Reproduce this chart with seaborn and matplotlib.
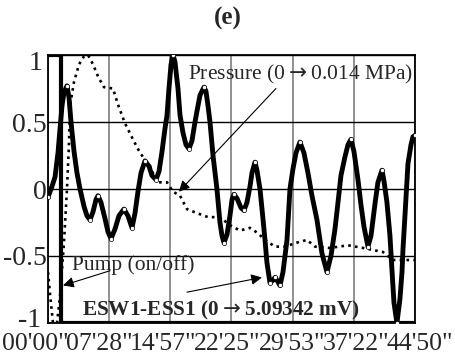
import matplotlib
matplotlib.use("Agg")
import matplotlib.pyplot as plt
import matplotlib.transforms as mtransforms
import seaborn as sns
import numpy as np

# time axis in minutes, values normalised to [-1, 1]
tick_pos = [0, 7.472, 14.944, 22.417, 29.889, 37.361, 44.833]
tick_labels = ["00'00\"", "07'28\"", "14'57\"", "22'25\"", "29'53\"", "37'22\"", "44'50\""]
ytick_pos = [-1, -0.5, 0, 0.5, 1]
ytick_labels = ["-1", "-0.5", "0", "0.5", "1"]

esw_t = [0.00, 0.49, 0.86, 1.22, 1.47, 1.71, 1.95, 2.32, 2.57, 2.81, 3.18, 3.54, 3.91,
         4.40, 4.76, 5.13, 5.50, 5.86, 6.11, 6.47, 6.96, 7.33, 7.70, 8.18, 8.67, 9.28,
         9.77, 10.26, 10.63, 10.99, 11.36, 11.85, 12.34, 12.70, 13.19, 13.56, 13.93,
         14.29, 14.54, 14.78, 15.03, 15.27, 15.51, 15.88, 16.13, 16.49, 16.86, 17.22,
         17.59, 17.96, 18.20, 18.57, 19.06, 19.30, 19.55, 19.79, 20.16, 20.64, 21.01,
         21.26, 21.50, 21.87, 22.23, 22.48, 22.72, 23.09, 23.58, 23.94, 24.31, 24.68,
         24.92, 25.29, 25.53, 25.90, 26.26, 26.51, 26.75, 27.12, 27.49, 27.73, 27.97,
         28.34, 28.71, 29.20, 29.56, 29.93, 30.30, 30.78, 31.27, 31.76, 32.25, 32.86,
         33.47, 34.08, 34.57, 35.06, 35.43, 35.79, 36.28, 36.65, 37.01, 37.38, 37.87,
         38.24, 38.60, 39.09, 39.46, 39.95, 40.31, 40.80, 41.05, 41.41, 41.78, 42.02,
         42.27, 42.63, 43.00, 43.25, 43.37, 43.61, 43.98, 44.35, 44.59, 44.83]
esw_v = [-0.06, 0.02, 0.09, 0.27, 0.45, 0.62, 0.72, 0.77, 0.68, 0.50, 0.28, 0.12, 0.00,
         -0.13, -0.20, -0.23, -0.17, -0.08, -0.05, -0.10, -0.22, -0.32, -0.37, -0.30, -0.20, -0.15,
         -0.20, -0.29, -0.18, -0.02, 0.12, 0.21, 0.17, 0.10, 0.07, 0.13, 0.28,
         0.45, 0.55, 0.75, 0.93, 1.00, 0.95, 0.75, 0.55, 0.42, 0.33, 0.30,
         0.36, 0.50, 0.58, 0.70, 0.76, 0.73, 0.62, 0.50, 0.25, 0.00, -0.25,
         -0.35, -0.40, -0.34, -0.20, -0.08, -0.04, -0.07, -0.14, -0.16, -0.10, 0.02,
         0.12, 0.20, 0.14, 0.00, -0.22, -0.38, -0.55, -0.70, -0.68, -0.66, -0.68,
         -0.72, -0.62, -0.38, 0.00, 0.15, 0.27, 0.35, 0.27, 0.12, -0.05, -0.23,
         -0.48, -0.62, -0.50, -0.30, -0.10, 0.10, 0.24, 0.33, 0.37, 0.28, 0.07,
         -0.12, -0.28, -0.43, -0.35, -0.11, 0.05, 0.14, 0.06, -0.10, -0.35, -0.60,
         -0.85, -1.00, -0.82, -0.62, -0.45, -0.20, 0.19, 0.33, 0.39, 0.40]

pres_t = [0.00, 0.24, 0.61, 1.10, 1.47, 1.95, 2.32, 2.57, 2.69, 3.18, 3.79, 4.40, 4.89,
          5.50, 6.11, 6.84, 7.94, 8.55, 9.41, 10.38, 11.24, 12.46, 13.32, 14.54, 15.27,
          16.13, 16.98, 18.20, 19.55, 21.01, 22.23, 23.45, 24.68, 25.65, 26.51, 27.73,
          28.95, 30.42, 31.64, 32.62, 34.45, 36.65, 38.48, 40.92, 42.14, 44.83]
pres_v = [-0.62, -0.78, -1.00, -1.00, -0.80, -0.40, 0.00, 0.35, 0.62, 0.80, 0.93, 0.99, 1.00,
          0.93, 0.84, 0.76, 0.75, 0.63, 0.49, 0.37, 0.27, 0.17, 0.05, 0.05, -0.02,
          -0.05, -0.15, -0.18, -0.21, -0.21, -0.27, -0.31, -0.29, -0.33, -0.38, -0.43,
          -0.43, -0.40, -0.38, -0.43, -0.44, -0.42, -0.44, -0.47, -0.53, -0.53]

pump_t = [0.0, 1.59, 1.59, 44.83]
pump_v = [1, 1, -1, -1]

sns.set_style("white")
plt.rcParams['font.family'] = ['Liberation Serif', 'DejaVu Serif']

fig = plt.figure(figsize=(4.55, 3.56), dpi=100)
ax = fig.add_axes([0.1055, 0.0927, 0.8065, 0.7528])

ax.set_xticks(tick_pos)
ax.set_yticks(ytick_pos)
ax.grid(axis='x', color='#888888', lw=1.3)
ax.grid(axis='y', color='black', lw=1.0)
ax.set_axisbelow(True)

sns.lineplot(x=pres_t, y=pres_v, ax=ax, color='black', lw=1.9, linestyle=(0, (1, 1.6)),
             sort=False, estimator=None)
sns.lineplot(x=pump_t, y=pump_v, ax=ax, color='black', lw=3.0, sort=False, estimator=None)
sns.lineplot(x=esw_t, y=esw_v, ax=ax, color='black', lw=3.5, sort=False, estimator=None)

# white dots on the turning points of the signal
v = np.array(esw_v)
turn = np.r_[True, ((v[1:-1] > v[:-2]) & (v[1:-1] > v[2:])) | ((v[1:-1] < v[:-2]) & (v[1:-1] < v[2:])), True]
ax.plot(np.array(esw_t)[turn], v[turn], 'o', ms=3, mfc='white', mec='black', mew=0.5, zorder=5)

ax.set_xlim(0, 44.833)
ax.set_ylim(-1, 1)
ax.set_xticklabels(tick_labels, fontsize=18.5)
ax.set_yticklabels(ytick_labels, fontsize=20)
ax.tick_params(axis='both', length=0)
ax.tick_params(axis='x', pad=7)
ax.tick_params(axis='y', pad=1)
for s in ax.spines.values():
    s.set_color('black')
    s.set_linewidth(1.3)
ax.set_xlabel('')
ax.set_ylabel('')

# the time labels run a little wider than the grid, as in the original
for i, lab in enumerate(ax.get_xticklabels()):
    lab.set_transform(lab.get_transform() + mtransforms.ScaledTranslation((-13 + 3 * i) / 100, 0, fig.dpi_scale_trans))
ylabs = ax.get_yticklabels()
ylabs[0].set_transform(ylabs[0].get_transform() + mtransforms.ScaledTranslation(-0.05, 0.055, fig.dpi_scale_trans))
ylabs[-1].set_transform(ylabs[-1].get_transform() + mtransforms.ScaledTranslation(-0.04, -0.05, fig.dpi_scale_trans))

arrow = dict(arrowstyle='-|>', mutation_scale=16, lw=0.8, color='black', shrinkA=0, shrinkB=0)
ax.annotate('', xy=(16.0, -0.02), xytext=(27.85, 0.75), arrowprops=arrow)
ax.text(17.1, 0.816, r'Pressure (0$\rightarrow$0.014 MPa)', fontsize=15.5, ha='left', va='baseline')
ax.annotate('', xy=(1.83, -0.72), xytext=(7.57, -0.61), arrowprops=arrow)
ax.text(2.93, -0.607, 'Pump (on/off)', fontsize=15.5, ha='left', va='baseline')
ax.annotate('', xy=(26.14, -0.66), xytext=(16.98, -0.77), arrowprops=arrow)
ax.text(4.15, -0.944, r'ESW1-ESS1 (0$\rightarrow$5.09342 mV)', fontsize=15.3, fontweight='bold',
        ha='left', va='baseline')

fig.text(0.5, 0.948, '(e)', fontsize=18, fontweight='bold', ha='center', va='center')

fig.savefig('out.png', dpi=100)
